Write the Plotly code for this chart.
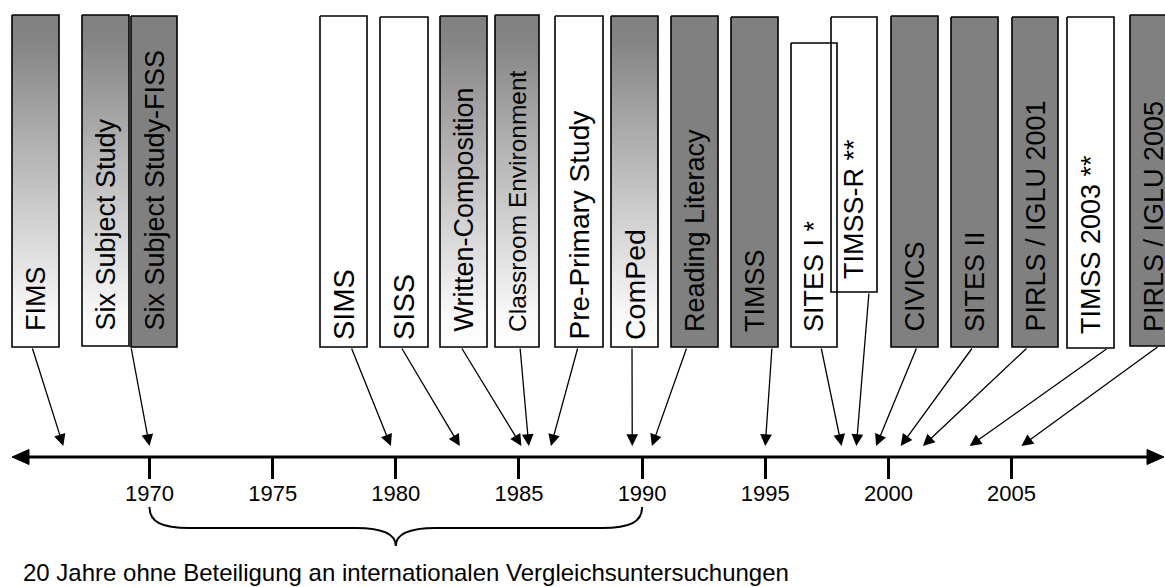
import plotly.graph_objects as go

# ---------------- data ----------------
studies = ["FIMS", "Six Subject Study", "Six Subject Study-FISS", "SIMS", "SISS",
           "Written-Composition", "Classroom Environment", "Pre-Primary Study", "ComPed",
           "Reading Literacy", "TIMSS", "SITES I *", "TIMSS-R **", "CIVICS", "SITES II",
           "PIRLS / IGLU 2001", "TIMSS 2003 **", "PIRLS / IGLU 2005"]
# year on the time line each study's arrow points to
study_years = [1966.5, 1970.0, 1970.0, 1979.8, 1982.6, 1985.1, 1985.4, 1986.3, 1989.6,
               1990.4, 1995.0, 1998.1, 1998.7, 1999.5, 2000.5, 2001.4, 2003.3, 2005.4]
# participation kind of each study (gray = full, gradient = partial, white = none)
participation = ["partial", "partial", "full", "none", "none", "partial", "partial", "none",
                 "partial", "full", "full", "none", "none", "full", "full", "full", "none", "full"]
tick_years = [1970, 1975, 1980, 1985, 1990, 1995, 2000, 2005]
tick_labels = ["1970", "1975", "1980", "1985", "1990", "1995", "2000", "2005"]
gap_years = [1970, 1990]
gap_text = "20 Jahre ohne Beteiligung an internationalen Vergleichsuntersuchungen"

# ---------------- layout (pixel positions of the label boxes) ----------------
W, H = 1165, 587
PX_1970, PX_PER_YEAR = 149.5, 24.63
X0 = 1970 - PX_1970 / PX_PER_YEAR
X1 = 1970 + (W - PX_1970) / PX_PER_YEAR


def px2x(p):
    return X0 + p * (X1 - X0) / W


def dpx(d):
    return d / PX_PER_YEAR


box_left = [12, 82, 131, 320, 380, 440, 495, 555, 611, 671, 731, 791, 831, 891, 951, 1012, 1067, 1130]
box_right = [59, 129, 177, 367, 428, 487, 539, 603, 658, 718, 778, 837, 877, 938, 998, 1058, 1114, 1177]
box_top = [15, 15, 16, 16, 17, 16, 15, 16, 16, 16, 17, 43, 17, 16, 17, 17, 17, 15]
box_bottom = [347, 346, 347, 347, 347, 347, 347, 347, 347, 347, 347, 347, 292, 347, 347, 347, 348, 346]
text_bottom = [333, 333, 333, 342, 342, 334, 334, 342, 342, 334, 334, 334, 281, 334, 334, 334, 336, 334]
text_size = [27, 27, 27, 29, 29, 27, 24.5, 28, 28.5, 27, 27, 27, 27, 27, 27, 27, 27, 27]
arrow_tail = [32, None, 131, 351, 401, 461, 520, 578, 632, 687, 772, 821, 869, 917, 973, 1028, 1108, 1159]
AXIS_Y = 457
TIP_Y = 446

FONT = "Arial, Liberation Sans, sans-serif"
GRAY = "#808080"

fig = go.Figure()

for i, name in enumerate(studies):
    l, r = px2x(box_left[i]), px2x(box_right[i])
    t, b = box_top[i], box_bottom[i]
    kw = dict(x=[l, r, r, l, l], y=[t, t, b, b, t], mode="lines",
              line=dict(color="black", width=1.6), hoverinfo="skip", showlegend=False)
    if participation[i] == "full":
        kw.update(fill="toself", fillcolor=GRAY)
    elif participation[i] == "partial":
        kw.update(fill="toself",
                  fillgradient=dict(type="vertical", start=t, stop=b,
                                    colorscale=[[0, "#808080"], [0.08, "#858585"],
                                                [0.9, "#f8f8f8"], [1, "#ffffff"]]))
    fig.add_trace(go.Scatter(**kw))

annotations = []
for i, name in enumerate(studies):
    cx = px2x((box_left[i] + box_right[i]) / 2)
    annotations.append(dict(x=cx, y=text_bottom[i], xref="x", yref="y", text=name,
                            textangle=-90, showarrow=False, xanchor="center", yanchor="bottom",
                            font=dict(family=FONT, size=text_size[i], color="black")))
    if arrow_tail[i] is not None:
        annotations.append(dict(x=study_years[i], y=TIP_Y, xref="x", yref="y",
                                ax=px2x(arrow_tail[i]), ay=box_bottom[i], axref="x", ayref="y",
                                text="", showarrow=True, arrowhead=2, arrowsize=1.8,
                                arrowwidth=1.3, arrowcolor="black", standoff=0, startstandoff=0))

annotations.append(dict(x=(gap_years[0] + gap_years[1]) / 2 + dpx(10), y=572, xref="x", yref="y",
                        text=gap_text, showarrow=False, xanchor="center", yanchor="middle",
                        font=dict(family=FONT, size=24, color="black")))

# brace under the 20-year gap
L, R = gap_years
M = (L + R) / 2
y0, y1, y2 = 507, 528, 546
brace = (f"M {L},{y0} C {L},{y0+15} {L+dpx(12)},{y1} {L+dpx(40)},{y1} "
         f"L {M-dpx(40)},{y1} C {M-dpx(12)},{y1} {M},{y1+6} {M},{y2} "
         f"C {M},{y1+6} {M+dpx(12)},{y1} {M+dpx(40)},{y1} "
         f"L {R-dpx(40)},{y1} C {R-dpx(12)},{y1} {R},{y0+15} {R},{y0}")

shapes = [
    dict(type="line", xref="paper", yref="y", x0=26 / W, x1=1150 / W, y0=AXIS_Y, y1=AXIS_Y,
         line=dict(color="black", width=3)),
    dict(type="path", xref="paper", yref="y",
         path=f"M {12/W},{AXIS_Y} L {29/W},{AXIS_Y-7.5} L {29/W},{AXIS_Y+7.5} Z",
         fillcolor="black", line=dict(color="black", width=1)),
    dict(type="path", xref="paper", yref="y",
         path=f"M {1164/W},{AXIS_Y} L {1147/W},{AXIS_Y-7.5} L {1147/W},{AXIS_Y+7.5} Z",
         fillcolor="black", line=dict(color="black", width=1)),
    dict(type="path", xref="x", yref="y", path=brace, line=dict(color="black", width=2)),
]

fig.update_layout(
    width=W, height=H, margin=dict(l=0, r=0, t=0, b=0),
    paper_bgcolor="white", plot_bgcolor="white", showlegend=False,
    annotations=annotations, shapes=shapes,
    xaxis=dict(range=[X0, X1], domain=[0, 1], anchor="free", position=1 - AXIS_Y / H,
               tickvals=tick_years, ticktext=tick_labels, ticks="outside", ticklen=21,
               tickwidth=3, tickcolor="black", showline=False, showgrid=False, zeroline=False,
               ticklabelstandoff=-4,
               tickfont=dict(family=FONT, size=22, color="black"), fixedrange=True),
    yaxis=dict(range=[H, 0], domain=[0, 1], visible=False, showgrid=False, zeroline=False,
               fixedrange=True),
)

fig.write_html("out.html", config={"displayModeBar": False},
               post_script="document.body.style.margin='0';document.body.style.overflow='hidden';")
